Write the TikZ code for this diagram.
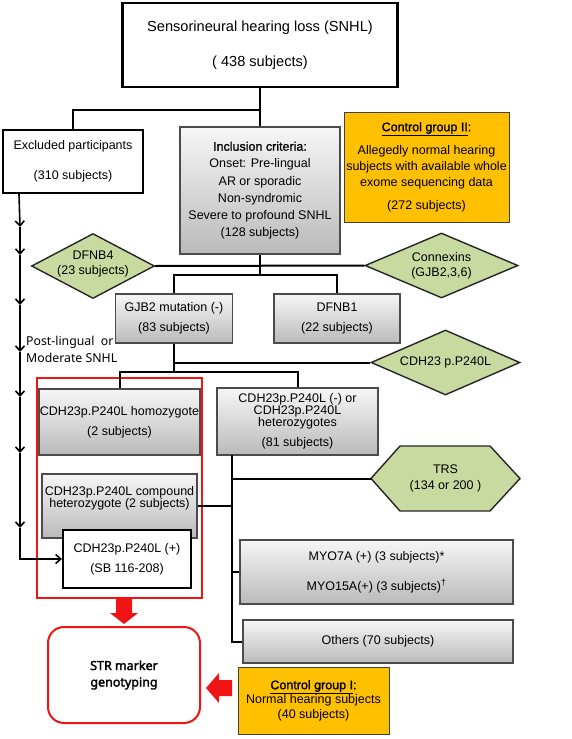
\documentclass[tikz,border=0pt]{standalone}
\usepackage{fontspec}
\setmainfont{Liberation Sans}
\newfontfamily\fb{Liberation Sans}[FakeBold=1.2]
\newfontfamily\kor{Noto Sans}
\newfontfamily\korb{Noto Sans}[FakeBold=2.2]
\usetikzlibrary{shapes.geometric,arrows.meta,calc}
\definecolor{grn}{RGB}{200,218,160}
\definecolor{org}{RGB}{255,192,0}
\definecolor{gtop}{RGB}{246,246,246}
\definecolor{gbot}{RGB}{186,186,186}
\definecolor{gline}{RGB}{75,75,75}
\definecolor{rd}{RGB}{240,20,20}
\begin{document}
\begin{tikzpicture}[x=1pt,y=-1pt,
  conn/.style={line width=2pt,black},
  lconn/.style={line width=1.6pt,black,-{Straight Barb[length=5pt,width=9pt]}},
  wbox/.style={draw=black,line width=2.2pt,fill=white,inner sep=0pt,align=center},
  gbox/.style={draw=gline,line width=1.1pt,top color=gtop,bottom color=gbot,inner sep=0pt,align=center},
  obox/.style={draw=black!75,line width=1pt,fill=org,inner sep=0pt,align=center},
  gdia/.style={diamond,draw=black!85,line width=1.4pt,fill=grn,inner sep=0pt},
  f/.style={font=\fontsize{12.5}{#1}\selectfont},
  f/.default=15
]
\useasboundingbox (0,0) rectangle (572,739);

% top
\node[wbox,minimum width=275,minimum height=84,font=\fontsize{14.6}{35}\selectfont] (top) at (260,45)
  {Sensorineural hearing loss (SNHL)\\( 438 subjects)};
\node[wbox,line width=2pt,minimum width=140,minimum height=63,f=30] (excl) at (73,161.5)
  {Excluded participants\\(310 subjects)};
\node[gbox,minimum width=160,minimum height=127,f=17.2] (incl) at (260,190.5)
  {{\fb Inclusion criteria:}\\Onset: Pre-lingual\\AR or sporadic\\Non-syndromic\\Severe to profound SNHL\\(128 subjects)};
\node[obox,minimum width=165,minimum height=110,f=16] (ctrl2) at (426.5,167)
  {{\fb\underline{Control group II}:}\\[7pt]Allegedly normal hearing\\subjects with available whole\\exome sequencing data\\[7pt](272 subjects)};

% diamonds
\node[gdia,minimum width=123,minimum height=65,
  label={[f=15,align=center,yshift=2pt]center:DFNB4\\(23 subjects)}] (dfnb4) at (93,266) {};
\node[gdia,minimum width=153,minimum height=65,
  label={[f=15,align=center]center:Connexins\\(GJB2,3,6)}] (connex) at (441.5,265.5) {};
\node[gdia,minimum width=149,minimum height=65,
  label={[f=15,align=center]center:CDH23 p.P240L}] (cdh) at (445.5,362.5) {};

\node[gbox,minimum width=117,minimum height=49,f=20] (gjb2) at (174,318.5)
  {GJB2 mutation (-)\\(83 subjects)};
\node[gbox,minimum width=126,minimum height=49,f=20] (dfnb1) at (337,318.5)
  {DFNB1\\(22 subjects)};

% red group
\node[draw=rd,line width=2pt,minimum width=165,minimum height=220,inner sep=0pt] (red) at (119.5,488) {};
\node[gbox,minimum width=161,minimum height=66,f=20] (homo) at (119.5,422)
  {CDH23p.P240L homozygote\\(2 subjects)};
\node[gbox,minimum width=161,minimum height=67,f=12] (right) at (297.5,421.5)
  {CDH23p.P240L (-) or\\CDH23p.P240L\\heterozygotes\\[8pt](81 subjects)};
\node[gbox,minimum width=155,minimum height=64,f=12] (comp) at (119.5,506)
  {CDH23p.P240L compound\\heterozygote (2 subjects)\\[6pt]};
\node[wbox,minimum width=128,minimum height=58,f=20] (plus) at (127,559)
  {CDH23p.P240L (+)\\(SB 116-208)};

% TRS hexagon
\draw[draw=black!85,line width=1.4pt,fill=grn]
  (371,478.5) -- (400,446) -- (490,446) -- (520,478.5) -- (490,511) -- (400,511) -- cycle;
\node[minimum width=149,minimum height=65,inner sep=0pt,align=center,f=16] (trs) at (445.5,478.5)
  {TRS\\(134 or 200 )};

\node[gbox,minimum width=273,minimum height=64,f=30] (myo) at (376.5,572)
  {MYO7A (+) (3 subjects)*\\MYO15A(+) (3 subjects)\textsuperscript{\dag}};
\node[gbox,minimum width=270,minimum height=43,f=15] (others) at (378,641.5)
  {Others (70 subjects)};

\node[draw=rd,line width=2pt,rounded corners=16pt,minimum width=152,minimum height=96,inner sep=0pt,align=center,
  font=\korb\fontsize{12.5}{16.5}\selectfont] (str) at (124,675)
  {STR marker\\genotyping};
\node[obox,minimum width=151,minimum height=67,f=14.5] (ctrl1) at (313.5,700.5)
  {{\fb\underline{Control group I}:}\\Normal hearing subjects\\(40 subjects)};

\node[anchor=west,align=left,inner sep=0pt,font=\kor\fontsize{12.3}{17}\selectfont] (post) at (26,349.5)
  {Post-lingual\ \ or\\Moderate SNHL};

% connectors
\coordinate (j0) at (260,110);
\draw[conn] (top.south) -- (j0);
\draw[conn] (j0) -| (excl.north);
\draw[conn] (j0) -- (incl.north);
\draw[conn] (dfnb4.east) -- (connex.west);
\coordinate (j1) at (260,275);
\draw[conn] (incl.south) -- (j1);
\draw[conn] (gjb2.north) |- (j1) -| (dfnb1.north);
\coordinate (j2) at (174,372);
\draw[conn] (gjb2.south) -- (j2);
\draw[conn] (j2 |- cdh.west) -- (cdh.west);
\draw[conn] (homo.north) |- (j2) -| (right.north);
\coordinate (t0) at (232,455);
\draw[conn] (t0) |- (others.west);
\draw[conn] (comp.east) -- (comp.east -| t0);
\draw[conn] (t0 |- trs.west) -- (trs.west);
\draw[conn] (t0 |- myo.west) -- (myo.west);

% left arrow chain
\coordinate (a0) at ($(excl.south west)+(17,0)$);
\coordinate (a1) at (20,227);
\coordinate (a2) at (20,255);
\coordinate (a3) at (20,305);
\coordinate (a4) at (20,352);
\coordinate (a5) at (20,397);
\coordinate (a6) at (20,453);
\coordinate (a7) at (20,528);
\draw[lconn] (a0) -- (a1);
\draw[lconn] (a1) -- (a2);
\draw[lconn] (a2) -- (a3);
\draw[lconn] (a3) -- (a4);
\draw[lconn] (a4) -- (a5);
\draw[lconn] (a5) -- (a6);
\draw[lconn] (a6) -- (a7);
\draw[lconn] (a7) |- (plus.west);

% block arrows
\fill[rd] ($(str.north |- red.south)+(-8,0)$) -- ++(0,14) -- ++(-6,0) -- ($(str.north)+(0,-2)$)
  -- ($(str.north |- red.south)+(14,14)$) -- ++(-6,0) -- ++(0,-14) -- cycle;
\fill[rd] ($(str.east)+(5,13)$) -- ++(13,-15) -- ++(0,7) -- ++(13,0) -- ++(0,16) -- ++(-13,0) -- ++(0,7) -- cycle;
\end{tikzpicture}
\end{document}
